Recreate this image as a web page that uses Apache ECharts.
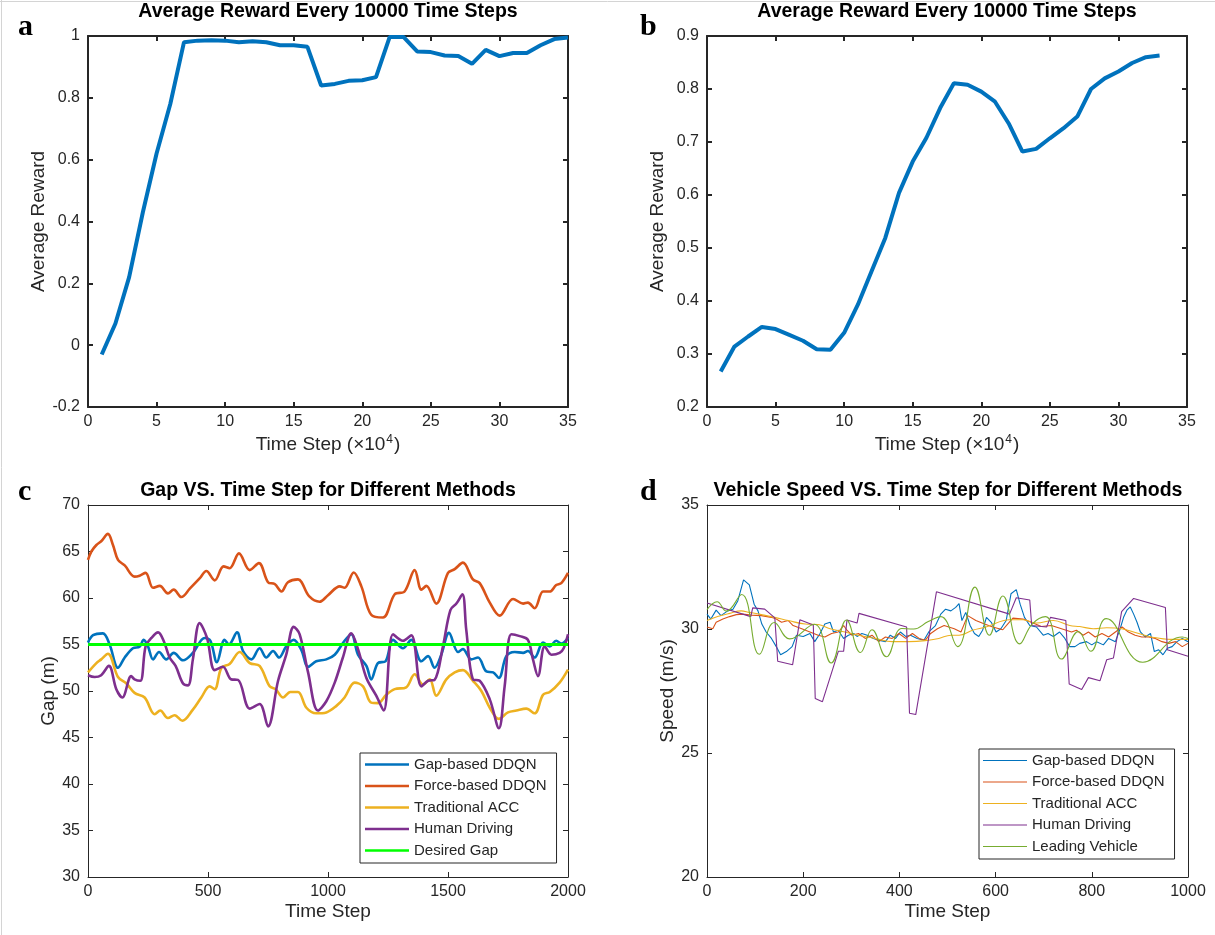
<!DOCTYPE html>
<html>
<head>
<meta charset="utf-8">
<script src="https://cdn.jsdelivr.net/npm/echarts@6/dist/echarts.min.js"></script>
<style>
html,body{margin:0;padding:0;background:#fff;}
#chart{width:1215px;height:935px;}
</style>
</head>
<body>
<div id="chart"></div>
<script>
// ---------- DATA ----------
// Panel a: average reward every 10000 steps (x in 1e4 steps)
var rewardAX = [1,2,3,4,5,6,7,8,9,10,11,12,13,14,15,16,17,18,19,20,21,22,23,24,25,26,27,28,29,30,31,32,33,34,35];
var rewardA = [-0.03,0.07,0.22,0.43,0.62,0.78,0.98,0.985,0.986,0.985,0.98,0.983,0.98,0.97,0.97,0.965,0.84,0.845,0.855,0.857,0.867,0.997,0.997,0.95,0.948,0.937,0.935,0.91,0.955,0.935,0.945,0.945,0.97,0.99,0.995];
// Panel b
var rewardBX = [1,2,3,4,5,6,7,8,9,10,11,12,13,14,15,16,17,18,19,20,21,22,23,24,25,26,27,28,29,30,31,32,33];
var rewardB = [0.267,0.314,0.333,0.351,0.347,0.336,0.325,0.309,0.308,0.34,0.393,0.456,0.519,0.604,0.663,0.708,0.764,0.811,0.808,0.795,0.776,0.735,0.682,0.687,0.707,0.726,0.748,0.80,0.82,0.833,0.849,0.86,0.863];

// Panel c: gap vs time step  [timeStep, gap]
var gapGapBased = [[0,55.2],[21,56],[62,56.2],[90,55],[125,52.5],[153,53.6],[187,54.6],[215,54.75],[232,55.5],[250,54.8],[271,53.4],[296,54.2],[326,53.4],[357,54.1],[396,53.3],[437,54.1],[486,55.7],[510,55.4],[537,53.1],[569,55.5],[587,55],[621,56.3],[646,54.3],[681,53.4],[715,54.6],[743,53.6],[771,54.3],[796,53.6],[826,54.8],[857,55.5],[889,54.4],[917,52.6],[951,53.2],[993,53.4],[1028,53.9],[1069,55.4],[1097,56.1],[1125,53.9],[1160,52.7],[1180,51.25],[1208,53],[1240,53.2],[1271,55.5],[1312,54.6],[1347,55.5],[1389,53.2],[1417,53.75],[1444,52.5],[1472,53.9],[1504,56.25],[1542,54.2],[1562,54.5],[1597,53.4],[1625,53.6],[1660,52.1],[1688,52],[1712,51.4],[1743,53.75],[1778,54.2],[1813,54.1],[1833,54.3],[1861,53.6],[1896,55.2],[1924,54.8],[1951,55.4],[1972,55.1],[2000,55.7]];
var gapForceBased = [[0,64.1],[14,65],[35,65.7],[55,66.1],[83,66.9],[104,65.7],[125,64.1],[153,63.5],[194,62.3],[215,62.4],[240,62.7],[271,61.1],[299,61.3],[333,60.5],[357,60.9],[389,60.1],[424,61],[465,62.1],[493,62.9],[528,61.9],[565,63.4],[590,63.2],[629,64.8],[674,63],[712,63.75],[750,61.7],[778,61.5],[806,60.7],[833,61.7],[875,62],[921,60.2],[965,59.6],[1000,60.3],[1049,61.25],[1069,61.1],[1107,62.75],[1139,61.25],[1180,58.2],[1229,57.9],[1278,60.4],[1319,60.7],[1361,63],[1389,60.9],[1410,61.3],[1451,59.4],[1500,62.7],[1528,63.1],[1562,63.8],[1604,62],[1632,61.6],[1674,59.5],[1715,58.1],[1771,59.9],[1813,59.4],[1833,59.5],[1861,58.9],[1896,60.7],[1924,60.7],[1951,61.4],[1972,61.6],[2000,62.7]];
var gapACC = [[0,52],[35,53],[55,53.4],[83,54],[125,51.5],[160,50.8],[194,49.8],[236,49.3],[278,47.5],[301,47.9],[333,47.1],[361,47.4],[393,46.8],[437,48],[472,49.3],[507,50.5],[528,50.2],[556,52.5],[590,52.9],[632,54.2],[674,53],[715,52.7],[757,50.5],[782,50.2],[813,49.3],[843,49.9],[875,49.9],[910,48.2],[951,47.6],[993,47.7],[1035,48.4],[1069,49.3],[1111,50.9],[1146,50.5],[1180,48.75],[1208,48.7],[1243,49.6],[1278,50.2],[1326,50.4],[1361,51.8],[1396,50.7],[1424,51.25],[1451,49.5],[1493,51.25],[1528,52],[1562,52.25],[1604,51.1],[1639,50],[1674,48.2],[1712,47],[1750,47.7],[1785,47.9],[1826,48.1],[1861,47.6],[1896,49.6],[1924,49.9],[1965,50.9],[2000,52.3]];
var gapHuman = [[0,51.7],[28,51.5],[55,51.7],[87,52.7],[118,50.2],[143,49.3],[180,51.6],[194,51.25],[218,51.1],[240,54.8],[264,55.7],[292,56.3],[315,55.4],[340,53.6],[365,52.7],[396,50.8],[417,50.6],[437,53.4],[465,57.3],[496,55.7],[528,52.25],[562,52.6],[597,51.25],[625,51.2],[674,48.1],[715,48.6],[750,46.2],[792,51.1],[826,53.9],[857,56.9],[882,56.1],[917,52],[958,47.9],[993,48.9],[1028,50.9],[1062,53.6],[1097,56.2],[1125,54.5],[1160,51.4],[1201,49.5],[1232,47.9],[1271,56.1],[1312,55.4],[1347,56],[1389,50.5],[1417,51.1],[1444,51.2],[1479,54.8],[1510,58.7],[1535,59.4],[1560,60.4],[1576,56.6],[1604,51.25],[1632,51.1],[1674,49.1],[1712,46],[1736,50.5],[1764,56.1],[1799,55.9],[1833,55.5],[1854,53.4],[1875,51.6],[1903,54.8],[1931,53.9],[1965,54.1],[1982,54.6],[2000,56.1]];
var gapDesired = [[0,55],[2000,55]];

// Panel d: speed vs time step  [timeStep, speed]
var speedGapBased = [[0,30.6],[8,30.4],[19,30.76],[29,30.54],[43,30.73],[54,30.8],[64,31.13],[76,31.98],[88,31.78],[98,31.0],[106,30.73],[114,30.2],[123,29.88],[134,29.62],[144,29.29],[153,28.96],[165,29.09],[177,29.29],[186,29.75],[200,29.7],[214,29.82],[224,29.49],[235,29.82],[245,30.2],[256,30.27],[263,29.88],[273,29.95],[284,29.62],[294,29.75],[305,29.82],[312,29.7],[322,29.82],[333,29.75],[346,29.62],[357,29.55],[371,29.49],[381,29.75],[392,29.62],[402,29.88],[413,29.7],[423,29.75],[437,29.62],[451,29.55],[461,29.88],[475,30.14],[486,30.6],[496,30.8],[507,30.73],[517,30.87],[524,31.02],[530,30.34],[538,30.67],[547,30.14],[556,29.82],[565,29.7],[573,29.95],[581,30.47],[591,30.27],[601,29.88],[611,30.01],[622,30.34],[632,31.42],[643,31.59],[651,31.0],[660,30.47],[671,30.14],[685,30.08],[699,29.75],[709,29.82],[720,29.7],[733,29.88],[744,29.62],[754,29.29],[765,29.29],[775,29.42],[789,29.49],[800,29.36],[810,29.49],[824,29.36],[835,29.62],[849,29.49],[859,30.01],[866,30.47],[873,30.76],[880,30.89],[887,30.6],[894,30.27],[901,29.88],[911,29.68],[922,29.82],[930,29.09],[939,29.16],[948,28.96],[957,29.22],[967,29.29],[977,29.49],[988,29.62],[1000,29.49]];
var speedForceBased = [[0,30.08],[12,30.01],[19,30.27],[33,30.4],[47,30.5],[61,30.58],[74,30.6],[92,30.56],[113,30.54],[134,30.47],[144,30.4],[155,30.27],[169,30.34],[179,30.14],[197,30.01],[214,29.88],[231,29.75],[245,29.68],[259,29.82],[273,29.88],[284,30.14],[291,29.95],[301,29.75],[315,29.82],[329,29.62],[343,29.75],[357,29.49],[371,29.68],[385,29.62],[399,29.82],[413,29.62],[427,29.82],[441,29.62],[454,29.55],[465,29.82],[479,30.01],[493,30.14],[514,30.01],[528,29.88],[542,30.54],[559,30.34],[577,30.2],[594,30.08],[615,29.97],[625,30.2],[636,30.44],[657,30.4],[678,30.24],[695,30.1],[716,30.14],[737,30.01],[758,29.88],[768,29.95],[782,29.75],[793,29.88],[807,29.68],[821,29.82],[835,29.68],[849,29.88],[863,30.08],[876,29.88],[890,29.75],[904,29.68],[918,29.68],[932,29.62],[946,29.49],[960,29.42],[974,29.49],[988,29.29],[1000,29.42]];
var speedACC = [[0,30.34],[22,30.5],[47,30.63],[71,30.73],[88,30.67],[113,30.58],[141,30.47],[169,30.34],[204,30.2],[231,30.18],[256,30.01],[287,29.88],[315,29.75],[350,29.62],[385,29.49],[420,29.49],[454,29.53],[482,29.62],[507,29.75],[524,29.75],[552,29.95],[580,30.08],[629,30.37],[657,30.37],[685,30.24],[720,30.34],[754,30.14],[775,30.1],[803,30.01],[831,30.05],[862,30.01],[894,29.84],[929,29.66],[964,29.58],[1000,29.58]];
var speedHuman = [[0,31.05],[91,30.5],[95,30.85],[120,30.8],[141,30.45],[147,28.7],[178,28.56],[193,30.37],[221,30.16],[225,27.2],[240,27.07],[273,29.1],[284,29.1],[291,30.36],[312,30.24],[316,30.63],[415,30.08],[421,26.6],[434,26.55],[477,31.5],[629,30.6],[643,31.26],[671,31.17],[675,30.14],[706,30.08],[714,30.47],[746,30.34],[753,27.78],[779,27.56],[793,28.04],[817,27.91],[831,28.76],[845,28.83],[862,30.7],[887,31.23],[953,30.87],[957,29.16],[1000,28.9]];
var speedLeading = [[0,30.78],[21,31.1],[40,30.72],[72,31.39],[109,28.98],[140,30.26],[172,29.6],[223,30.19],[258,28.63],[290,30.36],[319,29.05],[343,29.97],[373,28.88],[405,30.02],[430,30.0],[460,30.3],[486,30.5],[521,29.29],[557,31.69],[587,29.75],[615,31.33],[650,29.4],[676,30.2],[704,30.5],[737,28.79],[772,29.9],[798,29.1],[830,30.42],[906,28.66],[988,29.68],[1000,29.62]];

// Names / labels
var methodNames = ['Gap-based DDQN','Force-based DDQN','Traditional ACC','Human Driving'];
var desiredName = 'Desired Gap';
var leadingName = 'Leading Vehicle';
var titleAB = 'Average Reward Every 10000 Time Steps';
var titleC = 'Gap VS. Time Step for Different Methods';
var titleD = 'Vehicle Speed VS. Time Step for Different Methods';

// ---------- STYLE ----------
var C = {blue:'#0072BD', orange:'#D95319', yellow:'#EDB120', purple:'#7E2F8E', green:'#77AC30', lime:'#00FF00', ax:'#262626'};
var FONT = '"Liberation Sans", Arial, Helvetica, sans-serif';

var grids = [
  {left:88, top:36, width:480, height:371},
  {left:707, top:36, width:480, height:371},
  {left:88, top:505, width:480, height:372},
  {left:707, top:505, width:481, height:372}
];

function fmt(v) { return String(parseFloat(Number(v).toFixed(6))); }

var xAxes = [], yAxes = [];
function addAxes(g, xr, yr, xname, yname, lw, xNameGap, yNameGap) {
  var common = function(pos, isX, r, primary, name, gap) {
    var o = {
      gridIndex: g, type: 'value', position: pos,
      min: r[0], max: r[1], interval: r[2],
      axisLine: {show: true, onZero: false, lineStyle: {color: C.ax, width: lw}},
      axisTick: {show: true, inside: true, length: 5, lineStyle: {color: C.ax, width: lw}},
      splitLine: {show: false},
      axisLabel: {show: primary, color: C.ax, fontSize: 16, fontFamily: FONT, margin: isX ? 7 : 8, formatter: fmt},
      silent: true
    };
    if (primary) {
      o.name = name; o.nameLocation = 'middle'; o.nameGap = gap;
      o.nameTextStyle = {color: C.ax, fontSize: 19, fontFamily: FONT,
        rich: {sup: {fontSize: 12, fontFamily: FONT, color: C.ax, verticalAlign: 'top', padding: [0, 1, 10, 1]}}};
    }
    return o;
  };
  xAxes.push(common('bottom', true, xr, true, xname, xNameGap));
  yAxes.push(common('left', false, yr, true, yname, yNameGap));
  xAxes.push(common('top', true, xr, false));
  yAxes.push(common('right', false, yr, false));
  return [xAxes.length - 2, yAxes.length - 2];
}
var axA = addAxes(0, [0,35,5], [-0.2,1,0.2], 'Time Step (\u00d710{sup|4})', 'Average Reward', 2, 27, 40);
var axB = addAxes(1, [0,35,5], [0.2,0.9,0.1], 'Time Step (\u00d710{sup|4})', 'Average Reward', 2, 27, 40);
var axC = addAxes(2, [0,2000,500], [30,70,5], 'Time Step', 'Gap (m)', 1, 25, 30);
var axD = addAxes(3, [0,1000,200], [20,35,5], 'Time Step', 'Speed (m/s)', 1, 25, 30);

function pairs(xs, ys) { return xs.map(function(x, i){ return [x, ys[i]]; }); }
function line(name, ax, data, color, width, smooth, z) {
  return {name: name, type: 'line', xAxisIndex: ax[0], yAxisIndex: ax[1], data: data,
    symbol: 'none', showSymbol: false, smooth: smooth, z: z || 2,
    lineStyle: {color: color, width: width}, itemStyle: {color: color}, silent: true};
}

var WC = 2.6, WD = 1.1;
var series = [
  line('rewardA', axA, pairs(rewardAX, rewardA), C.blue, 4, false),
  line('rewardB', axB, pairs(rewardBX, rewardB), C.blue, 4, false),
  line(methodNames[0], axC, gapGapBased, C.blue, WC, 0.35),
  line(methodNames[1], axC, gapForceBased, C.orange, WC, 0.35),
  line(methodNames[2], axC, gapACC, C.yellow, WC, 0.35),
  line(methodNames[3], axC, gapHuman, C.purple, WC, 0.35),
  line(desiredName, axC, gapDesired, C.lime, 3.2, false),
  line(methodNames[0], axD, speedGapBased, C.blue, WD, false),
  line(methodNames[1], axD, speedForceBased, C.orange, WD, false),
  line(methodNames[2], axD, speedACC, C.yellow, WD, 0.4),
  line(methodNames[3], axD, speedHuman, C.purple, WD, false),
  line(leadingName, axD, speedLeading, C.green, WD, 0.45)
];

var legendBase = {
  orient: 'vertical', icon: 'rect', itemWidth: 44, itemGap: 6.5,
  borderColor: C.ax, borderWidth: 1, backgroundColor: '#fff',
  textStyle: {fontSize: 15, lineHeight: 14, color: C.ax, fontFamily: FONT},
  selectedMode: false
};
var legendC = Object.assign({}, legendBase, {
  left: 360, top: 753, padding: [4, 10, 5, 5], itemHeight: 2.6,
  data: methodNames.concat([desiredName])
});
var legendD = Object.assign({}, legendBase, {
  left: 979, top: 749, padding: [4, 10, 5, 4], itemHeight: 1.2,
  data: methodNames.concat([leadingName])
});

function txt(x, y, s, size, bold, family, align) {
  return {type: 'text', x: x, y: y, silent: true,
    style: {text: s, fontSize: size, fontWeight: bold ? 'bold' : 'normal', fontFamily: family,
      fill: '#000', align: align || 'center', verticalAlign: 'middle'}};
}
var SERIF = '"Liberation Serif", "Times New Roman", serif';
var graphics = [
  {type: 'line', silent: true, shape: {x1: 1.5, y1: 0, x2: 1.5, y2: 935}, style: {stroke: '#d4d4d4', lineWidth: 1}},
  {type: 'line', silent: true, shape: {x1: 0, y1: 1.5, x2: 1215, y2: 1.5}, style: {stroke: '#d4d4d4', lineWidth: 1}},
  txt(328, 12, titleAB, 19.5, true, FONT),
  txt(947, 12, titleAB, 19.5, true, FONT),
  txt(328, 491, titleC, 19.5, true, FONT),
  txt(948, 491, titleD, 19.5, true, FONT),
  txt(18, 27, 'a', 30, true, SERIF, 'left'),
  txt(640, 27, 'b', 30, true, SERIF, 'left'),
  txt(18, 492, 'c', 30, true, SERIF, 'left'),
  txt(640, 492, 'd', 30, true, SERIF, 'left')
];

var chart = echarts.init(document.getElementById('chart'), null, {renderer: 'canvas'});
chart.setOption({
  animation: false,
  backgroundColor: '#ffffff',
  textStyle: {fontFamily: FONT},
  grid: grids,
  xAxis: xAxes,
  yAxis: yAxes,
  legend: [legendC, legendD],
  series: series,
  graphic: graphics
});
</script>
</body>
</html>
